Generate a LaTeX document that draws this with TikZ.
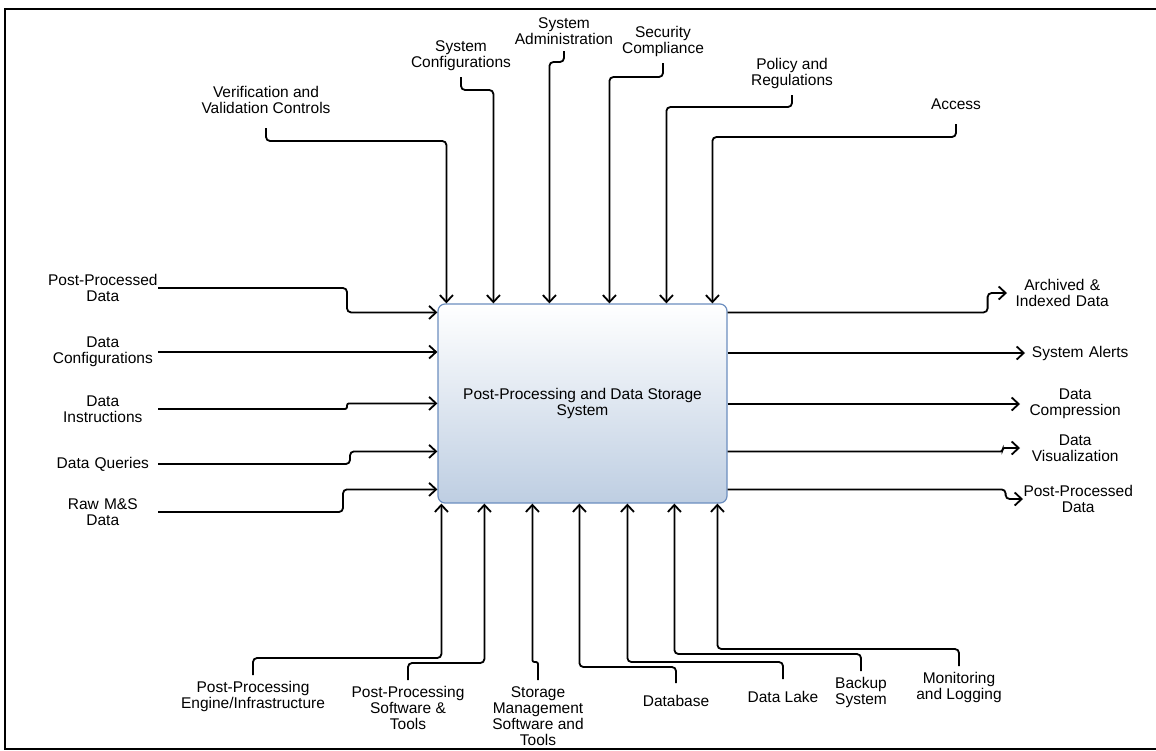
\documentclass[tikz,border=0pt]{standalone}
\usepackage{fontspec}
\setmainfont{Liberation Sans}
\usetikzlibrary{arrows.meta}

\newcommand\lblfont{\fontsize{15.5}{16}\selectfont}
\definecolor{boxline}{RGB}{108,142,191}
\definecolor{boxfill}{RGB}{190,206,226}

\tikzset{
  flow/.style={line width=1.8pt, rounded corners=4pt, -{Straight Barb[length=7pt,width=13pt]}},
  jog/.style={flow, rounded corners=2pt},
  lbl/.style={align=center, inner xsep=0pt, inner ysep=6pt, font=\lblfont},
  inlbl/.style={lbl, text width=110pt, anchor=east},
  outlbl/.style={lbl, text width=110pt, anchor=west},
  toplbl/.style={lbl, anchor=south},
  botlbl/.style={lbl, anchor=north},
  sysbox/.style={draw=boxline, line width=1.2pt, rounded corners=7pt, top color=white,
    bottom color=boxfill, minimum width=289pt, minimum height=199pt, inner sep=0pt,
    align=center, font=\lblfont}
}

\begin{document}
\begin{tikzpicture}[x=1pt,y=-1pt]
\useasboundingbox (0,0) rectangle (1156,750);
\draw[line width=2.5pt] (1156,9) -- (5,9) -- (5,749) -- (1156,749);

\node[sysbox] (pds) at (582.5,403.5) {Post-Processing and Data Storage\\System};

\node[toplbl, inner ysep=14pt] (vvc) at (266,128) {Verification and\\Validation Controls};
\node[toplbl] (syscfg) at (461,77) {System\\Configurations};
\node[toplbl] (sysadm) at (564,51) {System\\Administration};
\node[toplbl] (seccomp) at (663,63) {Security\\Compliance};
\node[toplbl] (policy) at (792,95) {Policy and\\Regulations};
\node[toplbl, inner ysep=14pt] (access) at (956,124) {Access};

\draw[flow] (vvc.south) -- ++(0,13) -| ([xshift=9pt]pds.north west);
\draw[flow] (syscfg.south) -- ++(0,13) -| ([xshift=56pt]pds.north west);
\draw[flow] (sysadm.south) -- ++(0,11) -| ([xshift=112pt]pds.north west);
\draw[flow] (seccomp.south) -- ++(0,14) -| ([xshift=172pt]pds.north west);
\draw[flow] (policy.south) -- ++(0,12) -| ([xshift=229pt]pds.north west);
\draw[flow] (access.south) -- ++(0,13) -| ([xshift=275pt]pds.north west);

\node[inlbl] (ppdin) at (158,288) {Post-Processed\\Data};
\node[inlbl] (dcfg) at (158,352) {Data\\Configurations};
\node[inlbl] (dinstr) at (158,409) {Data\\Instructions};
\node[inlbl] (dquery) at (158,464) {Data Queries};
\node[inlbl] (rawms) at (158,512) {Raw M\&S\\Data};

\draw[flow] (ppdin.east) -- ++(189,0) |- ([yshift=-9pt]pds.north west);
\draw[flow] (dcfg.east) -- (dcfg.east -| pds.west);
\draw[jog] (dinstr.east) -- ++(189,0) |- ([yshift=-100pt]pds.north west);
\draw[flow] (dquery.east) -- ++(192,0) |- ([yshift=-148pt]pds.north west);
\draw[flow] (rawms.east) -- ++(185,0) |- ([yshift=-186pt]pds.north west);

\node[outlbl] (arcidx) at (1007,293) {Archived \&\\Indexed Data};
\node[outlbl] (alerts) at (1025,353) {System Alerts};
\node[outlbl] (dcomp) at (1020,404) {Data\\Compression};
\node[outlbl] (dvis) at (1020,448) {Data\\Visualization};
\node[outlbl] (ppdout) at (1023,499) {Post-Processed\\Data};

\draw[flow] ([yshift=-9pt]pds.north east) -- ++(260,0) |- (arcidx.west);
\draw[flow] (alerts.west -| pds.east) -- (alerts.west);
\draw[flow] (dcomp.west -| pds.east) -- (dcomp.west);
\draw[jog] ([yshift=-148pt]pds.north east) -- ++(275,0) |- (dvis.west);
\draw[flow] ([yshift=-186pt]pds.north east) -- ++(278,0) |- (ppdout.west);

\node[botlbl] (ppeng) at (253,675) {Post-Processing\\Engine/Infrastructure};
\node[botlbl] (ppsw) at (408,680) {Post-Processing\\Software \&\\Tools};
\node[botlbl] (smst) at (538,680) {Storage\\Management\\Software and\\Tools};
\node[botlbl, inner ysep=12pt] (dbase) at (676,683) {Database};
\node[botlbl, inner ysep=12pt] (dlake) at (783,679) {Data Lake};
\node[botlbl] (backup) at (861,671) {Backup\\System};
\node[botlbl] (monlog) at (959,666) {Monitoring\\and Logging};

\draw[flow] (ppeng.north) -- ++(0,-17) -| ([xshift=4pt]pds.south west);
\draw[flow] (ppsw.north) -- ++(0,-17) -| ([xshift=47pt]pds.south west);
\draw[jog] (smst.north) -- ++(0,-18) -| ([xshift=95pt]pds.south west);
\draw[flow] (dbase.north) -- ++(0,-16) -| ([xshift=142pt]pds.south west);
\draw[flow] (dlake.north) -- ++(0,-17) -| ([xshift=190pt]pds.south west);
\draw[flow] (backup.north) -- ++(0,-17) -| ([xshift=237pt]pds.south west);
\draw[flow] (monlog.north) -- ++(0,-17) -| ([xshift=280pt]pds.south west);
\end{tikzpicture}
\end{document}
